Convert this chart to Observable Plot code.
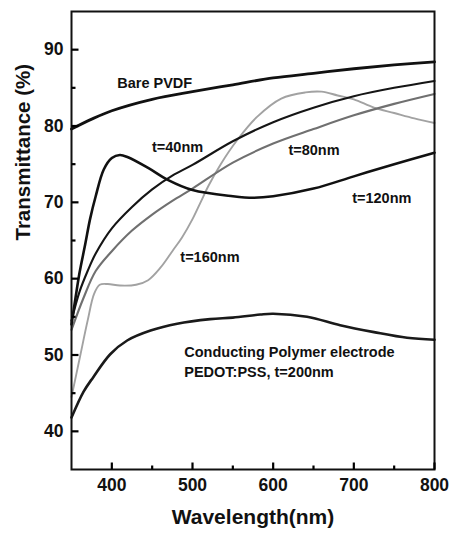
<!DOCTYPE html>
<html>
<head>
<meta charset="utf-8">
<script src="https://cdn.jsdelivr.net/npm/d3@7"></script>
<script src="https://cdn.jsdelivr.net/npm/@observablehq/plot@0.6"></script>
<style>
  html, body { margin: 0; padding: 0; background: #fff; }
  #chart svg { display: block; background: #fff; }
</style>
</head>
<body>
<div id="chart"></div>
<script>
// ---- data ----
const wlBare = [350,375,400,450,500,550,600,650,700,750,800];
const tBare  = [79.6,80.9,82.0,83.5,84.5,85.4,86.3,86.9,87.5,88.0,88.4];

const wl40 = [350,360,370,380,400,425,450,475,500,550,600,650,700,750,800];
const t40  = [54.5,58.3,61.0,63.3,66.6,69.4,71.7,73.5,74.9,78.0,80.5,82.4,83.9,85.0,85.9];

const wl80 = [350,365,380,400,425,450,475,500,550,600,650,700,750,800];
const t80  = [53.3,57.5,61.0,63.6,66.3,68.4,70.2,71.8,75.2,77.7,79.6,81.4,82.9,84.2];

const wl120 = [350,355,360,367,373,380,390,400,410,420,445,470,500,550,575,600,650,700,750,800];
const t120  = [54.0,57.5,60.8,64.5,67.8,70.8,74.3,75.8,76.2,75.9,74.5,72.9,71.6,70.8,70.6,70.8,71.8,73.4,75.0,76.5];

const wl160 = [350,360,370,378,385,395,410,430,445,460,475,487,500,510,520,535,555,580,610,640,660,680,700,725,750,775,800];
const t160  = [44.5,49.5,54.5,58.0,59.2,59.3,59.1,59.2,59.8,61.4,63.6,65.4,67.8,70.0,72.2,75.0,78.1,81.2,83.6,84.4,84.5,84.0,83.5,82.4,81.7,81.0,80.4];

const wl200 = [350,365,377,398,419,448,481,522,550,584,600,642,683,725,766,800];
const t200  = [41.8,45.2,47.1,50.1,51.9,53.2,54.1,54.7,54.9,55.3,55.4,55.0,53.9,53.0,52.25,52.0];

const xTicks = [400,500,600,700,800];
const xMinor = [450,550,650,750];
const yTicks = [40,50,60,70,80,90];
const yMinor = [45,55,65,75,85];
const xDomain = [350,800];
const yDomain = [35,95];

const labelText = ["Bare PVDF","t=40nm","t=80nm","t=120nm","t=160nm","Conducting Polymer electrode","PEDOT:PSS, t=200nm"];
const labelWl   = [406.7,449.8,618.9,697.9,484.9,489.8,489.8];
const labelT    = [85.6,77.2,76.8,70.5,62.8,50.35,47.7];

// ---- build tables ----
const zip = (xs, ys) => xs.map((x,i) => ({x, y: ys[i]}));
const labels = labelText.map((t,i) => ({t, x: labelWl[i], y: labelT[i]}));

const W = 449, H = 533, mL = 71, mR = 15, mT = 11, mB = 64;
const frameW = W - mL - mR, frameH = H - mT - mB;
const major = 7, minor = 4; // tick lengths in px
const yPerPx = (yDomain[1] - yDomain[0]) / frameH;
const xPerPx = (xDomain[1] - xDomain[0]) / frameW;
const xTickSegs = (vals, len) => vals.map(v => ({x1: v, x2: v, y1: yDomain[0], y2: yDomain[0] + len * yPerPx}));
const yTickSegs = (vals, len) => vals.map(v => ({y1: v, y2: v, x1: xDomain[0], x2: xDomain[0] + len * xPerPx}));

const font = "'Liberation Sans', Arial, Helvetica, sans-serif";

const chart = Plot.plot({
  width: W,
  height: H,
  marginLeft: mL,
  marginRight: mR,
  marginTop: mT,
  marginBottom: mB,
  style: {fontFamily: font, fontWeight: "bold", fontSize: "17.5px", color: "#111", background: "#fff"},
  x: {domain: xDomain},
  y: {domain: yDomain},
  marks: [
    Plot.line(zip(wlBare, tBare), {x: "x", y: "y", stroke: "#111", strokeWidth: 2.8, curve: "catmull-rom"}),
    Plot.line(zip(wl200, t200), {x: "x", y: "y", stroke: "#1a1a1a", strokeWidth: 2.6, curve: "catmull-rom"}),
    Plot.line(zip(wl160, t160), {x: "x", y: "y", stroke: "#a2a2a2", strokeWidth: 1.9, curve: "catmull-rom"}),
    Plot.line(zip(wl80, t80), {x: "x", y: "y", stroke: "#707070", strokeWidth: 2.1, curve: "catmull-rom"}),
    Plot.line(zip(wl40, t40), {x: "x", y: "y", stroke: "#151515", strokeWidth: 2.1, curve: "catmull-rom"}),
    Plot.line(zip(wl120, t120), {x: "x", y: "y", stroke: "#111", strokeWidth: 2.6, curve: "catmull-rom"}),
    Plot.text(labels, {x: "x", y: "y", text: "t", textAnchor: "start", fontSize: 14.5, fontWeight: "bold", fill: "#111"}),
    Plot.frame({stroke: "#111", strokeWidth: 2}),
    // inward ticks (drawn after the frame)
    Plot.link(xTickSegs(xTicks, major), {x1: "x1", x2: "x2", y1: "y1", y2: "y2", stroke: "#000", strokeWidth: 2.2}),
    Plot.link(xTickSegs(xMinor, minor), {x1: "x1", x2: "x2", y1: "y1", y2: "y2", stroke: "#000", strokeWidth: 2.2}),
    Plot.link(yTickSegs(yTicks, major), {x1: "x1", x2: "x2", y1: "y1", y2: "y2", stroke: "#000", strokeWidth: 2.2}),
    Plot.link(yTickSegs(yMinor, minor), {x1: "x1", x2: "x2", y1: "y1", y2: "y2", stroke: "#000", strokeWidth: 2.2}),
    Plot.axisX({ticks: xTicks, tickSize: 0, tickPadding: 9, label: null, fontSize: 17.5, fontWeight: "bold"}),
    Plot.axisY({ticks: yTicks, tickSize: 0, tickPadding: 8, label: null, fontSize: 17.5, fontWeight: "bold"}),
    Plot.text(["Wavelength(nm)"], {frameAnchor: "bottom", dy: 54, text: d => d, fontSize: 21, fontWeight: "bold", fill: "#111"}),
    Plot.text(["Transmittance (%)"], {frameAnchor: "left", dx: -48, rotate: -90, text: d => d, fontSize: 20.5, fontWeight: "bold", fill: "#111"})
  ]
});
document.getElementById("chart").appendChild(chart);
</script>
</body>
</html>
